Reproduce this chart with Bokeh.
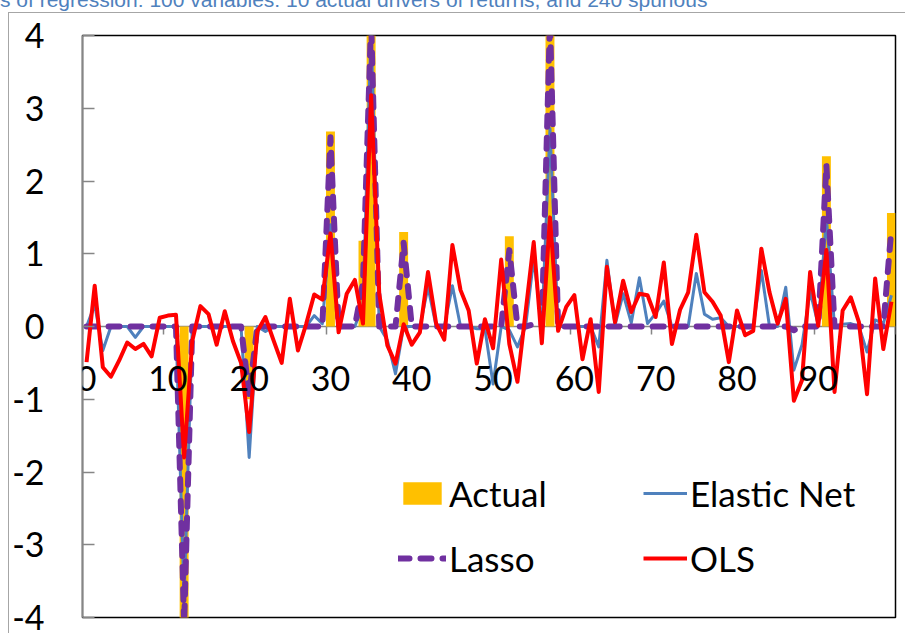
from bokeh.plotting import figure
from bokeh.layouts import column
from bokeh.models import (ColumnDataSource, LinearAxis, FixedTicker, Range1d,
                          Legend, LegendItem, LabelSet, Div)
from bokeh.core.properties import value
from bokeh.embed import file_html
from bokeh.resources import INLINE

title_text = "s of regression: 100 variables: 10 actual drivers of returns, and 240 spurious"
series_names = ["Actual", "Elastic Net", "Lasso", "OLS"]

variables = list(range(100))

actual = [
    0, 0, 0, 0, 0, 0, 0, 0, 0, 0,
    0, 0, -4.3, 0, 0, 0, 0, 0, 0, 0,
    -1.0, 0, 0, 0, 0, 0, 0, 0, 0, 0,
    2.68, 0, 0, 0, 1.18, 4.3, 0, 0, 0, 1.30,
    0, 0, 0, 0, 0, 0, 0, 0, 0, 0,
    0, 0, 1.24, 0, 0, 0, 0, 4.3, 0, 0,
    0, 0, 0, 0, 0, 0, 0, 0, 0, 0,
    0, 0, 0, 0, 0, 0, 0, 0, 0, 0,
    0, 0, 0, 0, 0, 0, 0, 0, 0, 0,
    0, 2.34, 0, 0, 0, 0, 0, 0, 0, 1.56,
]

elastic_net = [
    0, 0.30, -0.33, 0, 0, 0, -0.15, 0, 0, 0,
    0, 0, -3.75, 0, 0, 0, 0, 0, 0, 0,
    -1.80, 0, -0.07, 0, 0, 0, 0, 0, 0.15, 0.04,
    1.40, 0, 0, 0, 0.30, 4.10, 0, -0.19, -0.65, 0,
    0, 0, 0.54, 0, 0, 0.56, 0, 0, -0.03, -0.03,
    -0.79, 0, -0.05, -0.28, 0, 0.93, 0, 2.72, 0, 0,
    0, 0, 0, -0.28, 0.91, 0.02, 0.45, 0.05, 0.67, 0.04,
    0.18, 0.35, 0, 0, 0, 0.73, 0.17, 0.10, 0.12, 0,
    0, 0, 0, 0.77, 0, 0, 0.54, -0.60, -0.25, 0.48,
    0.02, 1.50, 0, 0.03, 0.04, 0, -0.35, 0.09, 0.04, 0.43,
]

lasso = [
    0, 0, 0, 0, 0, 0, 0, 0, 0, 0,
    0, 0, -4.1, 0, 0, 0, 0, 0, 0, 0,
    -0.95, 0, 0, 0, 0, 0, 0, 0, 0, 0,
    2.60, 0, 0, 0, 0.60, 4.2, 0, 0, 0, 1.15,
    0, 0, 0, 0, 0, 0, 0, 0, 0, 0,
    0, 0, 1.05, 0, 0, 0.03, 0.03, 4.2, 0, 0,
    0, 0, 0, 0, 0, 0, 0, 0, 0, 0,
    0, 0, 0, 0, 0, 0, 0, 0, 0, 0,
    0, 0, 0, 0, 0, 0, 0, -0.05, 0, 0,
    0, 2.22, 0, 0, 0, 0, 0, 0, 0, 1.35,
]

ols = [
    -0.49, 0.56, -0.56, -0.69, -0.47, -0.22, -0.31, -0.24, -0.41, 0.12,
    0.15, 0.16, -1.80, -0.20, 0.28, 0.17, -0.25, 0.21, -0.20, -0.50,
    -1.45, -0.07, 0.13, -0.19, -0.50, 0.38, -0.33, 0.03, 0.44, 0.37,
    1.28, -0.08, 0.45, 0.64, 0.04, 3.18, 0.45, -0.26, -0.51, 0.03,
    -0.25, -0.08, 0.75, 0.04, -0.18, 1.12, 0.50, 0.22, -0.51, 0.10,
    -0.30, 0.92, -0.24, -0.76, 0.20, 1.16, -0.23, 1.50, -0.06, 0.27,
    0.43, -0.45, 0.10, -0.90, 0.82, 0.06, 0.63, 0.20, 0.45, 0.43,
    0.13, 0.88, -0.24, 0.23, 0.47, 1.26, 0.47, 0.34, 0.15, -0.49,
    0.22, -0.12, -0.06, 1.07, 0.47, 0.04, 0.38, -1.02, -0.74, 0.75,
    0.01, 1.05, -0.90, 0.22, 0.40, 0.06, -0.93, 0.66, -0.31, 0.34,
]

y_ticks = [-4, -3, -2, -1, 0, 1, 2, 3, 4]
x_tick_labels = [0, 10, 20, 30, 40, 50, 60, 70, 80, 90]

src = ColumnDataSource(dict(x=variables, actual=actual, en=elastic_net,
                            lasso=lasso, ols=ols))
xlab_src = ColumnDataSource(dict(x=x_tick_labels, y=[0] * len(x_tick_labels),
                                 text=[str(t) for t in x_tick_labels]))

FONT = "Lato"

# cut-off title line above the chart
title_div = Div(text=title_text, width=907, height=12, margin=0,
                styles={"overflow": "hidden", "white-space": "nowrap",
                        "font-family": "'Liberation Sans', Arial, sans-serif",
                        "font-size": "21px", "line-height": "0px", "color": "#4F81BD"})

p = figure(width=897, height=621, output_backend="svg", toolbar_location=None,
           x_range=Range1d(-0.5, len(variables) - 0.5), y_range=Range1d(y_ticks[0], y_ticks[-1]),
           x_axis_location=None, y_axis_location=None,
           min_border_left=72, min_border_right=11, min_border_top=22, min_border_bottom=17,
           background_fill_color="white", border_fill_color="white", margin=0)
p.styles = {"margin-left": "8px", "border-left": "1.5px solid #A6A6A6",
            "border-top": "1.5px solid #A6A6A6"}
p.xgrid.visible = False
p.ygrid.visible = False
p.outline_line_color = "black"
p.outline_line_width = 1.5

# y axis
yax = LinearAxis(ticker=FixedTicker(ticks=y_ticks),
                 major_label_overrides={float(t): str(t) for t in y_ticks},
                 major_tick_in=12, major_tick_out=0,
                 minor_tick_line_color=None,
                 axis_line_color="#868686", axis_line_width=1.5,
                 major_tick_line_color="#868686", major_tick_line_width=1.5,
                 major_label_text_font=FONT, major_label_text_font_size="34px",
                 major_label_text_color="black", major_label_standoff=38)
p.add_layout(yax, "left")

# x axis line + tick marks at category boundaries, crossing at y = 0
tick_marks = [t - 0.5 for t in x_tick_labels] + [len(variables) - 0.5]
xax = LinearAxis(ticker=FixedTicker(ticks=tick_marks), fixed_location=0,
                 major_tick_in=0, major_tick_out=8, minor_tick_line_color=None,
                 axis_line_color="#868686", axis_line_width=1.5,
                 major_tick_line_color="#868686", major_tick_line_width=1.5,
                 major_label_text_color=None, level="underlay")
p.add_layout(xax, "below")

bars = p.vbar(x="x", top="actual", width=1.1, source=src,
              fill_color="#FFC000", line_color=None)
en_r = p.line("x", "en", source=src, line_color="#4F81BD", line_width=3,
              line_join="round")
lasso_r = p.line("x", "lasso", source=src, line_color="#7030A0", line_width=6,
                 line_dash="11 11", line_cap="round", line_join="round")
ols_r = p.line("x", "ols", source=src, line_color="#FF0000", line_width=4,
               line_join="round")

# x tick labels, centred on their categories below the zero line
p.add_layout(LabelSet(x="x", y="y", text="text", source=xlab_src, y_offset=-52,
                      text_align="center", text_baseline="middle",
                      text_font=value(FONT), text_font_size=value("34px"),
                      text_color="black"))

common = dict(border_line_color=None, background_fill_alpha=0, padding=0, margin=0,
              label_text_font=FONT, label_text_font_size="35px", label_text_color="black",
              glyph_height=28, spacing=23, label_standoff=3, orientation="vertical")
leg1 = Legend(items=[LegendItem(label=series_names[0], renderers=[bars]),
                     LegendItem(label=series_names[2], renderers=[lasso_r])],
              location=(316, 38), glyph_width=48, **common)
leg2 = Legend(items=[LegendItem(label=series_names[1], renderers=[en_r]),
                     LegendItem(label=series_names[3], renderers=[ols_r])],
              location=(561, 38), glyph_width=44, **common)
p.add_layout(leg1, "center")
p.add_layout(leg2, "center")

layout = column(title_div, p, spacing=0, margin=0)
open("out.html", "w").write(file_html(layout, INLINE))
